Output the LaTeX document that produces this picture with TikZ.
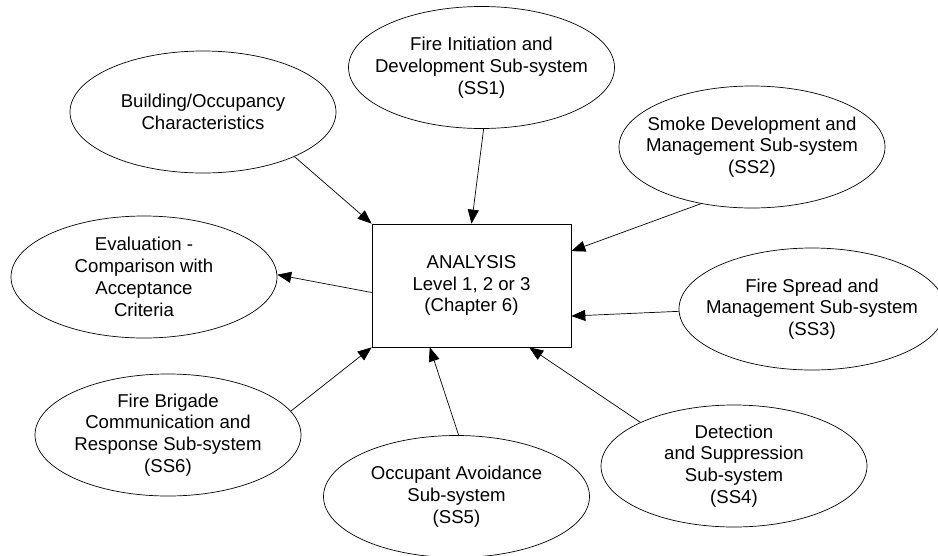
\documentclass[tikz,border=0pt]{standalone}
\usepackage{fontspec}
\setmainfont{Liberation Sans}
\usetikzlibrary{arrows.meta,positioning,shapes}
\tikzset{
        >={Triangle[length=14pt,width=11pt]}, % big filled arrow heads
        every path/.style={line width=0.7pt},
    }
\tikzset{
      sub system/.style={
		ellipse,
		draw,
		minimum width=266pt,
		minimum height=122pt,
		inner xsep=-16pt, % keeps the text from blowing up the ellipse
		inner ysep=0pt,
		align=center,
		font=\fontsize{18.6}{21.8}\selectfont,
	  },
  		analysis box/.style={
    	draw,
		minimum width=199pt,
		minimum height=123pt,
		align=center,
		font=\fontsize{18.6}{21.8}\selectfont,
      }
  	}
\begin{document}
\begin{tikzpicture}[x=1pt,y=-1pt]
    \useasboundingbox (0,0) rectangle (938,555);
    \node [analysis box] (ana) at (471.5,285.5) {ANALYSIS\\Level 1, 2 or 3\\(Chapter 6)};
    \node [sub system] (bldg) at (203,112) {Building/Occupancy\\Characteristics};
    \node [sub system] (ss1) at (481.5,67.5) {Fire Initiation and\\Development Sub-system\\(SS1)};
    \node [sub system] (ss2) at (752,147) {Smoke Development and\\Management Sub-system\\(SS2)};
    \node [sub system] (eval) at (144,277) {Evaluation -\\Comparison with\\Acceptance\\Criteria};
    \node [sub system] (ss3) at (812,309) {Fire Spread and\\Management Sub-system\\(SS3)};
    \node [sub system] (ss4) at (734,466) {Detection\\and Suppression\\Sub-system\\(SS4)};
    \node [sub system] (ss5) at (456.5,496.5) {Occupant Avoidance\\Sub-system\\(SS5)};
    \node [sub system] (ss6) at (168,435) {Fire Brigade\\Communication and\\Response Sub-system\\(SS6)};
    % inputs into the analysis
    \draw [->] (bldg.-26) -- (ana.north west);
    \draw [->] (ss1.-88) -- (ana.north);
    \draw [->] (ss2.-132) -- (ana.19.6);
    \draw [->] (ss3.181) -- (ana.-17.6);
    \draw [->] (ss4.155) -- (ana.-47.4);
    \draw [->] (ss5.88) -- (ana.-124);
    \draw [->] (ss6.11) -- (ana.south west);
    % output
    \draw [->] (ana.184) -- (eval.1);
  \end{tikzpicture}
\end{document}
